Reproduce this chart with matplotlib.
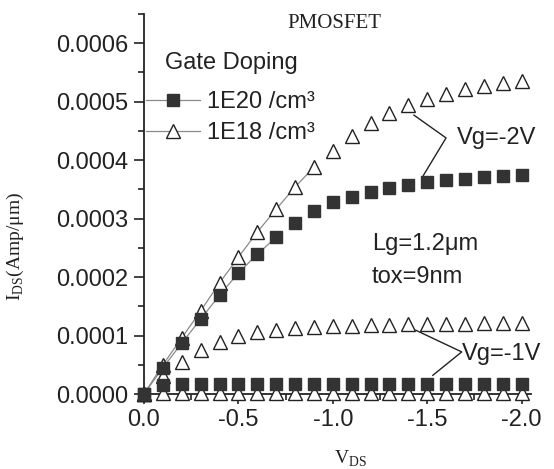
import matplotlib.pyplot as plt
from matplotlib.ticker import MultipleLocator, FormatStrFormatter
from matplotlib.lines import Line2D

plt.rcParams['font.family'] = ['Liberation Sans', 'DejaVu Sans']
plt.rcParams['mathtext.fontset'] = 'custom'
plt.rcParams['mathtext.rm'] = 'Liberation Serif'
plt.rcParams['axes.unicode_minus'] = False

# drain voltage (V)
vds = [0.0, -0.1, -0.2, -0.3, -0.4, -0.5, -0.6, -0.7, -0.8, -0.9, -1.0,
       -1.1, -1.2, -1.3, -1.4, -1.5, -1.6, -1.7, -1.8, -1.9, -2.0]

# drain current, units of 1e-4 A/um
ids_1e20_vg2 = [0.0, 0.45, 0.87, 1.28, 1.69, 2.07, 2.39, 2.68, 2.92, 3.13, 3.28,
                3.37, 3.45, 3.52, 3.57, 3.62, 3.66, 3.68, 3.71, 3.73, 3.74]
ids_1e18_vg2 = [0.0, 0.50, 0.96, 1.42, 1.90, 2.34, 2.77, 3.16, 3.54, 3.88, 4.15,
                4.41, 4.63, 4.80, 4.94, 5.04, 5.14, 5.21, 5.26, 5.32, 5.35]
ids_1e18_vg1 = [0.0, 0.30, 0.55, 0.75, 0.89, 0.99, 1.06, 1.10, 1.13, 1.15, 1.16,
                1.17, 1.18, 1.18, 1.19, 1.19, 1.20, 1.20, 1.21, 1.21, 1.22]
ids_1e20_vg1 = [0.0, 0.16, 0.17, 0.17, 0.17, 0.17, 0.17, 0.17, 0.17, 0.17, 0.17,
                0.17, 0.17, 0.17, 0.17, 0.17, 0.17, 0.17, 0.17, 0.17, 0.17]
ids_1e18_low = [0.0, 0.01, 0.01, 0.01, 0.01, 0.01, 0.01, 0.01, 0.01, 0.01, 0.01,
                0.01, 0.01, 0.01, 0.01, 0.01, 0.01, 0.01, 0.01, 0.01, 0.01]

legend_labels = ['1E20 /cm³', '1E18 /cm³']

ink = '#222222'
line_gray = '#8a8a8a'
sq_m = dict(marker='s', ms=8, mfc='#333333', mec='#333333', ls='none', clip_on=False)
tri_m = dict(marker='^', ms=10, mfc='white', mec=ink, mew=1.0, ls='none', clip_on=False)

fig = plt.figure(figsize=(5.54, 4.69), dpi=100)
ax = fig.add_axes([144 / 554, 75 / 469, 387 / 554, 380 / 469])

scale = 1e-4
s20_2 = [v * scale for v in ids_1e20_vg2]
s18_2 = [v * scale for v in ids_1e18_vg2]

# connecting lines only show on the rising part in the original
ax.plot(vds[:8], s20_2[:8], color=line_gray, lw=0.9, zorder=2)
ax.plot(vds[:10], s18_2[:10], color=line_gray, lw=0.9, zorder=2)

ax.plot(vds, [v * scale for v in ids_1e18_low], zorder=3, **tri_m)
ax.plot(vds, [v * scale for v in ids_1e20_vg1], zorder=4, **sq_m)
ax.plot(vds, [v * scale for v in ids_1e18_vg1], zorder=3, **tri_m)
ax.plot(vds, s20_2, zorder=4, **sq_m)
ax.plot(vds, s18_2, zorder=3, **tri_m)

ax.set_xlim(0, -2.05)
ax.set_ylim(0, 0.00065)

for s in ['top', 'right']:
    ax.spines[s].set_visible(False)
for s in ['left', 'bottom']:
    ax.spines[s].set_color(ink)
    ax.spines[s].set_linewidth(1.3)

ax.yaxis.set_major_locator(MultipleLocator(0.0001))
ax.yaxis.set_minor_locator(MultipleLocator(0.00005))
ax.yaxis.set_major_formatter(FormatStrFormatter('%.4f'))
ax.xaxis.set_major_locator(MultipleLocator(0.5))
ax.xaxis.set_minor_locator(MultipleLocator(0.25))
ax.xaxis.set_major_formatter(FormatStrFormatter('%.1f'))
ax.tick_params(which='major', direction='out', length=7, width=1.2, color=ink,
               labelsize=17, labelcolor=ink, pad=4)
ax.tick_params(which='minor', direction='out', length=4, width=1.2, color=ink)

ax.set_xlabel(r'V$_{\mathrm{DS}}$', family='Liberation Serif', fontsize=14, color=ink)
ax.xaxis.set_label_coords((350 - 144) / 387, -(449 - 394) / 380)
ax.set_ylabel(r'I$_{\mathrm{DS}}$(Amp/μm)', family='Liberation Serif', fontsize=14, color=ink)
ax.yaxis.set_label_coords(-(144 - 26) / 387, (394 - 247) / 380)

# legend
ax.text(21 / 387, (394 - 63) / 380, 'Gate Doping', transform=ax.transAxes,
        fontsize=17, color=ink, ha='left', va='center')
handles = [Line2D([], [], color=line_gray, lw=0.9, **{k: v for k, v in sq_m.items() if k != 'ls'}),
           Line2D([], [], color=line_gray, lw=0.9, **{k: v for k, v in tri_m.items() if k != 'ls'})]
leg = ax.legend(handles, legend_labels, loc='upper left',
                bbox_to_anchor=(0.005, (394 - 91) / 380), frameon=False, fontsize=17,
                handlelength=2.3, handletextpad=0.3,
                labelspacing=0.4, borderpad=0, borderaxespad=0)
for t in leg.get_texts():
    t.set_color(ink)

# annotations
ax.plot([-1.43, -1.60, -1.48], [4.77e-4, 4.38e-4, 3.74e-4], color=ink, lw=1)
ax.text(-1.66, 4.38e-4, 'Vg=-2V', fontsize=17, color=ink, ha='left', va='center')
ax.plot([-1.44, -1.683, -1.53], [1.09e-4, 0.72e-4, 0.32e-4], color=ink, lw=1)
ax.text(-1.683, 0.69e-4, 'Vg=-1V', fontsize=17, color=ink, ha='left', va='center')
ax.text(-1.206, 2.56e-4, 'Lg=1.2μm', fontsize=17, color=ink, ha='left', va='center')
ax.text(-1.206, 2.0e-4, 'tox=9nm', fontsize=17, color=ink, ha='left', va='center')

fig.text(334 / 554, 1 - 24 / 469, 'PMOSFET', family='Liberation Serif', fontsize=15,
         color=ink, ha='center', va='center')

fig.savefig('out.png', dpi=100)
